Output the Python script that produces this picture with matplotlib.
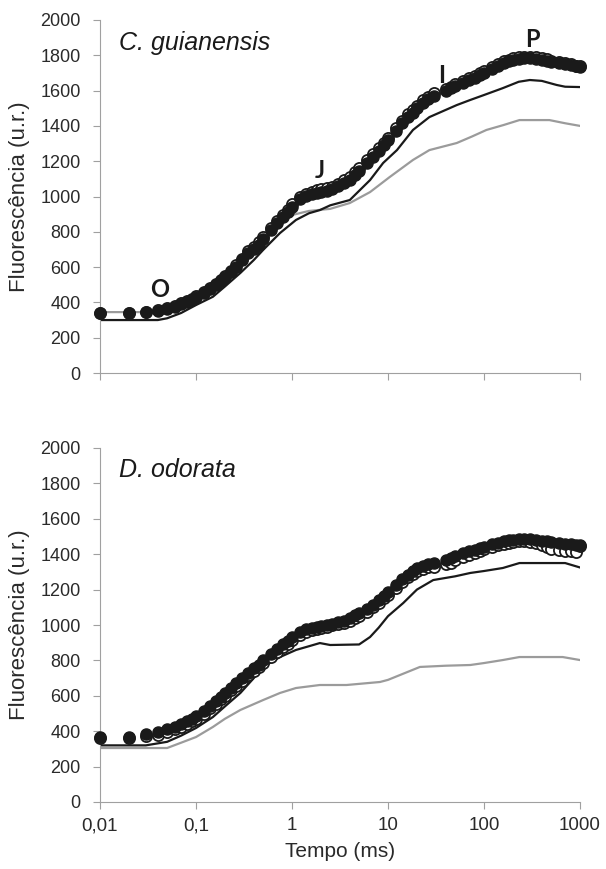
import matplotlib
matplotlib.use('Agg')
import matplotlib.pyplot as plt
from matplotlib.ticker import NullLocator

plt.rcParams['font.family'] = ['Liberation Sans', 'DejaVu Sans']

# tempos de medida (ms) dos pontos
tempo = [0.01, 0.02, 0.03, 0.04, 0.05, 0.06, 0.07, 0.08, 0.09, 0.1,
         0.12, 0.14, 0.16, 0.18, 0.2, 0.23, 0.26, 0.3, 0.35, 0.4,
         0.45, 0.5, 0.6, 0.7, 0.8, 0.9, 1.0, 1.2, 1.4, 1.6,
         1.8, 2.0, 2.3, 2.6, 3.0, 3.5, 4, 4.5, 5, 6,
         7, 8, 9, 10, 12, 14, 16, 18, 20, 23,
         26, 30, 40, 45, 50, 60, 70, 80, 90, 100,
         120, 140, 160, 180, 200, 230, 260, 300, 350, 400,
         450, 500, 600, 700, 800, 900, 1000]

# C. guianensis
cg_cheio = [340, 340, 345, 352, 362, 375, 390, 403, 416, 428,
            452, 475, 498, 520, 543, 573, 603, 640, 678, 705,
            728, 758, 812, 850, 882, 912, 942, 985, 1002, 1013,
            1020, 1025, 1030, 1040, 1058, 1078, 1095, 1120, 1145, 1190,
            1225, 1255, 1290, 1318, 1370, 1415, 1450, 1472, 1500, 1530,
            1553, 1570, 1600, 1612, 1625, 1645, 1660, 1674, 1688, 1702,
            1722, 1742, 1757, 1768, 1775, 1781, 1784, 1785, 1781, 1774,
            1768, 1763, 1756, 1749, 1743, 1738, 1735]
cg_aberto = [340, 342, 348, 356, 368, 380, 396, 410, 422, 434,
             458, 482, 505, 528, 550, 580, 612, 648, 690, 716,
             740, 770, 822, 862, 895, 925, 955, 996, 1015, 1026,
             1034, 1040, 1046, 1055, 1072, 1094, 1112, 1136, 1160, 1206,
             1240, 1272, 1305, 1334, 1386, 1430, 1465, 1488, 1514, 1544,
             1566, 1584, 1610, 1622, 1635, 1654, 1670, 1684, 1698, 1712,
             1732, 1752, 1766, 1776, 1782, 1788, 1792, 1793, 1790, 1784,
             1777, 1770, 1762, 1755, 1748, 1742, 1738]
cg_t_preto = [0.01, 0.04, 0.05, 0.07, 0.1, 0.15, 0.2, 0.29, 0.4, 0.5,
              0.75, 1.1, 1.5, 1.95, 2.5, 4, 6.5, 8.9, 12.4, 18.2,
              27, 52, 72, 100, 157, 230, 300, 400, 570, 700,
              1000]
cg_preto = [300, 300, 310, 340, 385, 432, 490, 567, 640, 697,
            793, 867, 905, 923, 950, 980, 1093, 1190, 1263, 1377,
            1450, 1518, 1547, 1575, 1614, 1650, 1660, 1655, 1632, 1622,
            1620]
cg_t_cinza = [0.01, 0.03, 0.05, 0.07, 0.1, 0.15, 0.2, 0.3, 0.5, 0.75,
              1.0, 1.5, 2.5, 4, 6.5, 10.4, 18.2, 27, 52, 75,
              106, 160, 234, 480, 700, 1000]
cg_cinza = [345, 345, 355, 378, 415, 480, 535, 625, 745, 855,
            895, 918, 930, 963, 1025, 1110, 1207, 1263, 1303, 1340,
            1377, 1405, 1433, 1433, 1415, 1400]

# D. odorata
do_cheio = [370, 370, 385, 395, 410, 425, 440, 455, 470, 485,
            515, 545, 570, 595, 615, 645, 670, 700, 730, 755,
            775, 800, 835, 865, 890, 910, 930, 960, 975, 985,
            990, 995, 1000, 1008, 1015, 1025, 1040, 1055, 1068, 1090,
            1115, 1140, 1165, 1185, 1225, 1260, 1285, 1305, 1320, 1335,
            1345, 1352, 1370, 1380, 1390, 1405, 1418, 1425, 1435, 1442,
            1455, 1465, 1472, 1478, 1482, 1484, 1485, 1484, 1480, 1476,
            1472, 1468, 1462, 1458, 1455, 1452, 1450]
do_aberto = [360, 362, 372, 380, 395, 410, 425, 440, 455, 470,
             500, 530, 555, 580, 600, 630, 655, 685, 715, 740,
             760, 785, 820, 850, 875, 895, 915, 945, 960, 970,
             978, 985, 990, 998, 1005, 1012, 1025, 1040, 1052, 1075,
             1100, 1125, 1150, 1170, 1210, 1245, 1272, 1290, 1305, 1318,
             1325, 1330, 1345, 1350, 1365, 1382, 1398, 1408, 1418, 1428,
             1440, 1452, 1460, 1465, 1470, 1472, 1474, 1470, 1462, 1452,
             1440, 1432, 1425, 1420, 1418, 1415, 1445]
do_t_preto = [0.01, 0.03, 0.05, 0.07, 0.1, 0.15, 0.2, 0.29, 0.4, 0.5,
              0.75, 1.1, 1.5, 1.95, 2.5, 5, 6.5, 8, 10, 14.4,
              20, 29.6, 50, 72, 100, 157, 234, 700, 1000]
do_preto = [320, 320, 340, 375, 418, 480, 540, 616, 700, 763,
            819, 859, 880, 898, 887, 890, 932, 985, 1050, 1124,
            1200, 1254, 1275, 1294, 1305, 1322, 1350, 1350, 1325]
do_t_cinza = [0.01, 0.05, 0.07, 0.1, 0.15, 0.2, 0.29, 0.5, 0.75, 1.1,
              1.95, 3.7, 8.25, 10, 21.5, 40, 72, 100, 157, 234,
              660, 1000]
do_cinza = [305, 305, 335, 367, 424, 470, 520, 576, 616, 644,
            661, 661, 678, 690, 763, 770, 774, 785, 802, 819,
            819, 802]

ticks_x = [0.01, 0.1, 1, 10, 100, 1000]
rotulos_x = ['0,01', '0,1', '1', '10', '100', '1000']
ticks_y = list(range(0, 2001, 200))

# etapas OJIP (posicao em tempo, fluorescencia)
etapas = ['O', 'J', 'I', 'P']
etapas_t = [0.042, 1.95, 36.5, 316]
etapas_y = [430, 1105, 1643, 1847]


def painel(ax, especie, y_esp, cheio, aberto, tp, preto, tc, cinza, rotulos):
    ax.plot(tc, cinza, color='#9b9b9b', lw=1.6, zorder=2)
    ax.plot(tp, preto, color='#1a1a1a', lw=1.6, zorder=2)
    ax.plot(tempo, aberto, 'o', ms=8, mfc='white', mec='#1a1a1a', mew=1.3,
            zorder=3, clip_on=False)
    ax.plot(tempo, cheio, 'o', ms=8, mfc='#1a1a1a', mec='#1a1a1a', mew=1,
            zorder=4, clip_on=False)
    ax.set_xscale('log')
    ax.set_xlim(0.01, 1000)
    ax.set_ylim(0, 2000)
    ax.set_xticks(ticks_x)
    ax.xaxis.set_minor_locator(NullLocator())
    if rotulos:
        ax.set_xticklabels(rotulos_x)
    else:
        ax.set_xticklabels([])
    ax.set_yticks(ticks_y)
    for s in ['top', 'right']:
        ax.spines[s].set_visible(False)
    for s in ['left', 'bottom']:
        ax.spines[s].set_color('#a0a0a0')
        ax.spines[s].set_linewidth(0.8)
    ax.tick_params(axis='both', direction='out', length=5, width=0.8,
                   color='#a0a0a0', labelcolor='#2a2a2a')
    ax.tick_params(axis='y', pad=9, labelsize=13)
    ax.tick_params(axis='x', pad=6, labelsize=13.5)
    ax.set_ylabel('Fluorescência (u.r.)', fontsize=16, color='#2a2a2a')
    ax.yaxis.set_label_coords(-0.146, 0.5)
    ax.text(0.04, y_esp, especie, transform=ax.transAxes, fontsize=18,
            style='italic', va='baseline', color='#1a1a1a')


fig = plt.figure(figsize=(6.06, 8.69), dpi=100)
ax1 = fig.add_axes([100/606, 1 - 373/869, 480/606, 353/869])
ax2 = fig.add_axes([100/606, 1 - 802/869, 480/606, 354/869])

painel(ax1, 'C. guianensis', 0.915, cg_cheio, cg_aberto,
       cg_t_preto, cg_preto, cg_t_cinza, cg_cinza, False)
painel(ax2, 'D. odorata', 0.918, do_cheio, do_aberto,
       do_t_preto, do_preto, do_t_cinza, do_cinza, True)

for et, t, y in zip(etapas, etapas_t, etapas_y):
    ax1.text(t, y, et, ha='center', va='baseline', fontsize=17,
             fontweight='bold', family=['Lato', 'DejaVu Sans'], color='#1a1a1a')

ax2.set_xlabel('Tempo (ms)', fontsize=15, color='#2a2a2a')
ax2.xaxis.set_label_coords(0.5, -0.113)

fig.savefig('out.png', dpi=100)
plt.close()
